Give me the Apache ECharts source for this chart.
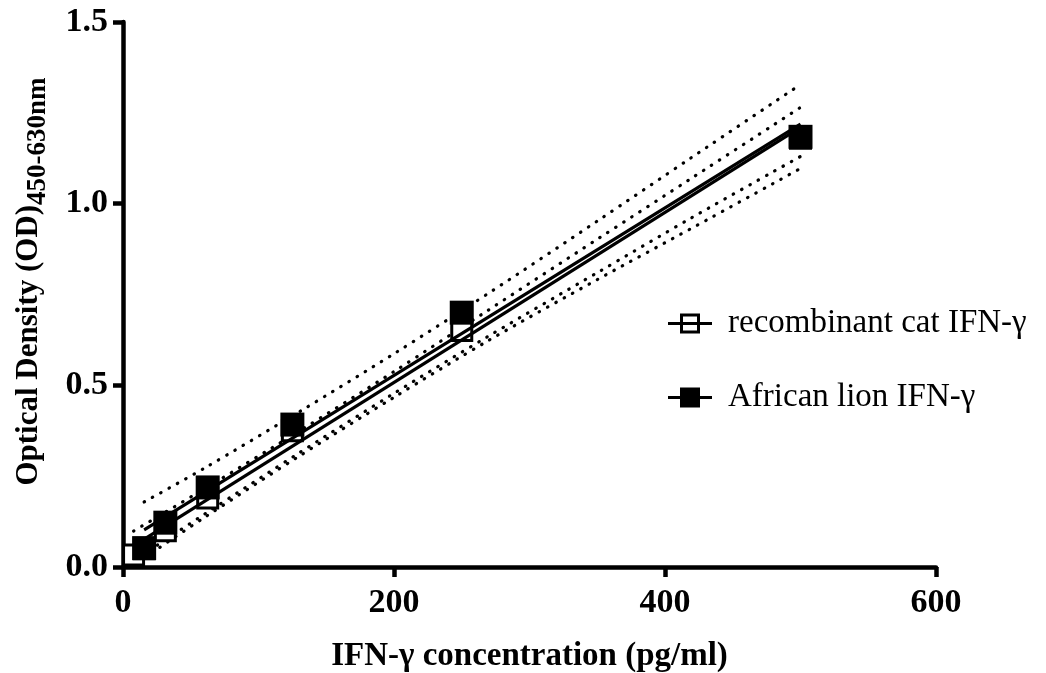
<!DOCTYPE html>
<html>
<head>
<meta charset="utf-8">
<script src="https://cdn.jsdelivr.net/npm/echarts@6/dist/echarts.min.js"></script>
<style>
  html, body { margin: 0; padding: 0; background: #fff; }
  #main { width: 1046px; height: 673px; }
</style>
</head>
<body>
<div id="main"></div>
<script>
// measured points (IFN-g pg/ml vs OD)
var concLion = [15.6, 31.25, 62.5, 125, 250, 500];
var odLion = [0.052, 0.122, 0.219, 0.392, 0.70, 1.184];
var concCat = [7.8, 15.6, 31.25, 62.5, 125, 250, 500];
var odCat = [0.033, 0.05, 0.10, 0.19, 0.375, 0.651, 1.18];

// regression lines, ends
var fitXLion = [15.6, 500];
var fitLion = [0.102, 1.219];
var fitXCat = [7.8, 500];
var fitCat = [0.058, 1.21];

// 95% bands
var bandXLion = [15.6, 60, 130, 200, 270, 350, 420, 500];
var bandLionHi = [0.179, 0.272, 0.427, 0.587, 0.754, 0.952, 1.128, 1.328];
var bandLionLo = [0.025, 0.136, 0.305, 0.467, 0.624, 0.791, 0.933, 1.097];
var bandXCat = [7.8, 60, 130, 200, 270, 350, 420, 500];
var bandCatHi = [0.099, 0.215, 0.374, 0.538, 0.708, 0.902, 1.071, 1.265];
var bandCatLo = [0.017, 0.145, 0.314, 0.478, 0.636, 0.81, 0.962, 1.13];

var xTicks = [0, 200, 400, 600];
var yTicks = [0, 0.5, 1.0, 1.5];

var serif = "'Times New Roman', 'Liberation Serif', serif";

function pairs(xs, ys) {
    var out = [];
    for (var i = 0; i < xs.length; i++) out.push([xs[i], ys[i]]);
    return out;
}

// line + square legend marks (hollow one keeps the line through the box)
var openIcon = 'path://M0,8.5H12V0H32V8.5H44V11.5H32V20H12V11.5H0Z M15,3V8.5H29V3Z M15,11.5V17H29V11.5Z';
var filledIcon = 'path://M0,8.5H12V0H32V8.5H44V11.5H32V20H12V11.5H0Z';

function band(xs, ys) {
    return {
        type: 'line', data: pairs(xs, ys), smooth: 0.3, symbol: 'none', z: 2,
        silent: true,
        lineStyle: { color: '#000', width: 3.2, type: [0.5, 9], cap: 'round' }
    };
}
function fit(xs, ys) {
    return {
        type: 'line', data: pairs(xs, ys), symbol: 'none', z: 4, silent: true,
        lineStyle: { color: '#000', width: 3.2 }
    };
}

var chart = echarts.init(document.getElementById('main'));
var option = {
    animation: false,
    backgroundColor: '#fff',
    grid: { left: 123, right: 110, top: 22, bottom: 106, containLabel: false, outerBoundsMode: 'none' },
    legend: {
        orient: 'vertical', left: 663, top: 302, itemWidth: 44, itemHeight: 20, itemGap: 41,
        selectedMode: false,
        textStyle: { fontFamily: serif, fontSize: 33, color: '#000', padding: [0, 0, 0, 11] },
        data: [
            { name: 'recombinant cat IFN-γ', icon: openIcon, itemStyle: { color: '#000', borderWidth: 0 } },
            { name: 'African lion IFN-γ', icon: filledIcon, itemStyle: { color: '#000', borderWidth: 0 } }
        ]
    },
    xAxis: {
        type: 'value', min: xTicks[0], max: xTicks[xTicks.length - 1], interval: 200,
        name: 'IFN-γ concentration (pg/ml)', nameLocation: 'middle', nameGap: 73,
        nameTextStyle: { fontFamily: serif, fontSize: 33, fontWeight: 'bold', color: '#000' },
        axisLine: { lineStyle: { color: '#000', width: 4.5 } },
        axisTick: { length: 10, lineStyle: { color: '#000', width: 4.5 } },
        axisLabel: { margin: 19, fontFamily: serif, fontSize: 34, fontWeight: 'bold', color: '#000' },
        splitLine: { show: false }
    },
    yAxis: {
        type: 'value', min: yTicks[0], max: yTicks[yTicks.length - 1], interval: 0.5,
        name: '{m|Optical Density (OD)}{s|450-630nm}', nameLocation: 'middle', nameGap: 71,
        nameTextStyle: {
            rich: {
                m: { fontFamily: serif, fontSize: 31, fontWeight: 'bold', color: '#000', lineHeight: 46, padding: [0, 0, 0, 26] },
                s: { fontFamily: serif, fontSize: 27, fontWeight: 'bold', color: '#000', lineHeight: 46, verticalAlign: 'bottom' }
            }
        },
        axisLine: { lineStyle: { color: '#000', width: 4.5 } },
        axisTick: { length: 10, lineStyle: { color: '#000', width: 4.5 } },
        axisLabel: {
            margin: 15, fontFamily: serif, fontSize: 34, fontWeight: 'bold', color: '#000',
            formatter: function (v) { return v.toFixed(1); }
        },
        splitLine: { show: false }
    },
    series: [
        band(bandXLion, bandLionHi),
        band(bandXLion, bandLionLo),
        band(bandXCat, bandCatHi),
        band(bandXCat, bandCatLo),
        {
            name: 'recombinant cat IFN-γ', type: 'scatter', data: pairs(concCat, odCat),
            symbol: 'rect', symbolSize: 20, z: 3,
            itemStyle: { color: '#fff', borderColor: '#000', borderWidth: 3, opacity: 1 }
        },
        fit(fitXCat, fitCat),
        fit(fitXLion, fitLion),
        {
            name: 'African lion IFN-γ', type: 'scatter', data: pairs(concLion, odLion),
            symbol: 'rect', symbolSize: 24, z: 5,
            itemStyle: { color: '#000', opacity: 1 }
        }
    ]
};
chart.setOption(option);
</script>
</body>
</html>
